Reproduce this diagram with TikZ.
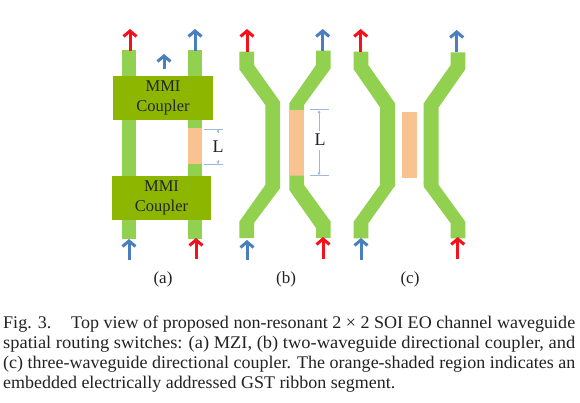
\documentclass[tikz,border=0pt]{standalone}
\usepackage{fontspec}
\setmainfont{Liberation Serif}
\usetikzlibrary{arrows.meta}
\definecolor{wg}{HTML}{92D050}
\definecolor{mmi}{HTML}{8DB600}
\definecolor{gst}{HTML}{F8C291}
\definecolor{sigblue}{HTML}{4A7FBF}
\definecolor{sigred}{HTML}{F5101A}
\definecolor{dimblue}{HTML}{9DB8DC}
\definecolor{txt}{HTML}{222222}
\tikzset{
  x=1pt,y=-1pt,
  wgfill/.style={fill=wg,draw=none},
  gstfill/.style={fill=gst,draw=none},
  mmibox/.style={fill=mmi,draw=none,inner sep=0pt,align=center,font=\fontsize{16.5}{20.5}\selectfont,text=black!85},
  sigarrow/.style={line width=3pt,-{Straight Barb[length=5.5pt,width=13pt,line width=3pt]}},
  redarrow/.style={sigarrow,draw=sigred},
  bluearrow/.style={sigarrow,draw=sigblue},
  dimline/.style={draw=dimblue,line width=0.6pt},
  dimarrow/.style={draw=dimblue,line width=0.6pt,-{Latex[length=3pt,width=3pt]}},
  lbl/.style={font=\fontsize{17}{19}\selectfont,text=txt,inner sep=0pt},
  dimlbl/.style={font=\fontsize{18}{20}\selectfont,text=txt,inner sep=0pt},
  captext/.style={anchor=base west,inner sep=0pt,font=\fontsize{17.8}{20}\selectfont,text=txt},
}
\newcommand{\sigarr}[5]{%
  \coordinate (#1s) at (#3,#5); \coordinate (#1e) at (#3,#4);
  \draw[#2] (#1s) -- (#1e);}
\begin{document}
\begin{tikzpicture}
\useasboundingbox (0,0) rectangle (580,403);
\fill[white] (0,0) rectangle (580,403);
% (a) MZI
\fill[wgfill] (122,50) rectangle (136,239);
\fill[wgfill] (187.5,50) rectangle (202,239);
\fill[gstfill] (188,128) rectangle (202,164);
\node[mmibox,minimum width=100pt,minimum height=44pt] (mmiU) at (163,98) {MMI\\Coupler};
\node[mmibox,minimum width=99pt,minimum height=44pt] (mmiL) at (161.5,198) {MMI\\Coupler};
\sigarr{a1}{redarrow}{130}{29}{51}
\sigarr{a2}{bluearrow}{195}{29}{51}
\sigarr{a3}{bluearrow}{164}{54}{69}
\sigarr{a4}{bluearrow}{129}{239}{260}
\sigarr{a5}{redarrow}{196}{238}{259}
\coordinate (aL1a) at (204,129); \coordinate (aL1b) at (223,129);
\coordinate (aL2a) at (204,164.5); \coordinate (aL2b) at (223,164.5);
\draw[dimline] (aL1a) -- (aL1b);
\draw[dimline] (aL2a) -- (aL2b);
\node[dimlbl] (aL) at (218,147) {L};
\coordinate (aLu) at (218,133); \coordinate (aLut) at (218,129);
\coordinate (aLd) at (218,160); \coordinate (aLdt) at (218,164.5);
\draw[dimarrow] (aLu) -- (aLut);
\draw[dimarrow] (aLd) -- (aLdt);
\node[lbl] (la) at (163,279) {(a)};
% (b)
\fill[wgfill] (239.3,51.7) -- (254,51.7) -- (254,65) -- (280,101.7) -- (280,188.3) -- (254,223) -- (254,238) -- (239.3,238) -- (239.3,221.7) -- (265.3,185) -- (265.3,105) -- (239.3,69.3) -- cycle;
\fill[wgfill] (316,50.7) -- (330.7,50.7) -- (330.7,68.3) -- (304,105) -- (304,110) -- (289.3,110) -- (289.3,103.3) -- (316,65) -- cycle;
\fill[gstfill] (289.3,110) rectangle (304,175.7);
\fill[wgfill] (289.3,175.7) -- (304,175.7) -- (304,185) -- (330.7,221.7) -- (330.7,238) -- (316,238) -- (316,228) -- (289.3,190) -- cycle;
\sigarr{b1}{redarrow}{247}{29}{52}
\sigarr{b2}{bluearrow}{322.7}{29}{51}
\sigarr{b3}{bluearrow}{247}{240}{260}
\sigarr{b4}{redarrow}{323}{237}{259}
\coordinate (bL1a) at (310,109.7); \coordinate (bL1b) at (329,109.7);
\coordinate (bL2a) at (310,175.7); \coordinate (bL2b) at (329,175.7);
\draw[dimline] (bL1a) -- (bL1b);
\draw[dimline] (bL2a) -- (bL2b);
\node[dimlbl] (bL) at (320,140) {L};
\coordinate (bLu) at (319,131); \coordinate (bLut) at (319,110);
\coordinate (bLd) at (319,150); \coordinate (bLdt) at (319,175.5);
\draw[dimarrow] (bLu) -- (bLut);
\draw[dimarrow] (bLd) -- (bLdt);
\node[lbl] (lb) at (286,279) {(b)};
% (c)
\fill[wgfill] (353.7,51.7) -- (368.3,51.7) -- (368.3,65) -- (395,103.3) -- (395,185.7) -- (368.3,223.3) -- (368.3,238.3) -- (353.7,238.3) -- (353.7,221.7) -- (380,185) -- (380,107.3) -- (353.7,69.3) -- cycle;
\fill[wgfill] (450.7,52.3) -- (465.3,52.3) -- (465.3,69.3) -- (438.7,107.3) -- (438.7,185) -- (465.3,221.7) -- (465.3,238.3) -- (450.7,238.3) -- (450.7,223.3) -- (423.7,186.7) -- (423.7,103.3) -- (450.7,65) -- cycle;
\fill[gstfill] (402.3,112.3) rectangle (417.3,178);
\sigarr{c1}{redarrow}{360.7}{29}{52}
\sigarr{c2}{bluearrow}{456.7}{30}{52}
\sigarr{c3}{bluearrow}{361}{238}{260}
\sigarr{c4}{redarrow}{457.7}{237}{259}
\node[lbl] (lc) at (410,279) {(c)};
% caption
\node[captext] (cap1) at (3,328) {\resizebox{572pt}{\height}{Fig. 3.\hspace{1.1em}Top view of proposed non-resonant 2 × 2 SOI EO channel waveguide}};
\node[captext] (cap2) at (3,348) {\resizebox{572pt}{\height}{spatial routing switches: (a) MZI, (b) two-waveguide directional coupler, and}};
\node[captext] (cap3) at (3,368) {\resizebox{572pt}{\height}{(c) three-waveguide directional coupler. The orange-shaded region indicates an}};
\node[captext] (cap4) at (3,388) {\resizebox{392pt}{\height}{embedded electrically addressed GST ribbon segment.}};
\end{tikzpicture}
\end{document}
